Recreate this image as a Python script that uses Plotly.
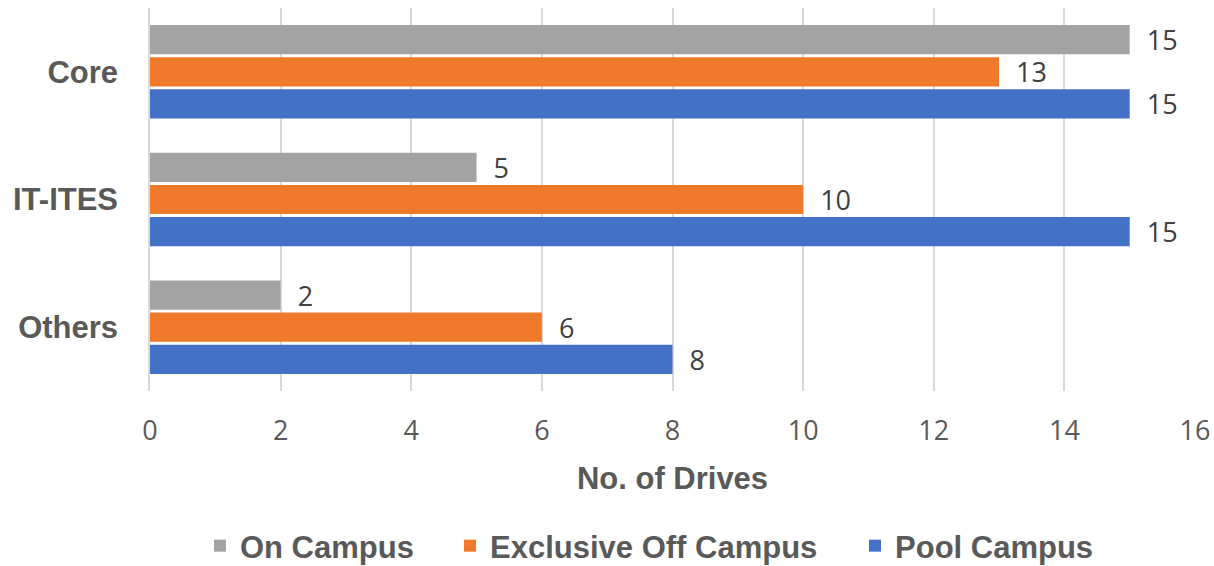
import plotly.graph_objects as go

categories = ["Others", "IT-ITES", "Core"]
on_campus = [2, 5, 15]
exclusive_off = [6, 10, 13]
pool_campus = [8, 15, 15]
x_ticks = [0, 2, 4, 6, 8, 10, 12, 14, 16]

fig = go.Figure()
series = [
    ("Pool Campus", pool_campus, "#4371c6", "legend3"),
    ("Exclusive Off Campus", exclusive_off, "#ef7a2c", "legend2"),
    ("On Campus", on_campus, "#a3a3a3", "legend"),
]
for name, vals, col, lg in series:
    fig.add_trace(go.Bar(
        y=categories, x=vals, name=name, orientation="h",
        marker=dict(color=col, line=dict(width=0)),
        text=["  " + str(v) for v in vals], textposition="outside",
        constraintext="none",
        textfont=dict(family="Open Sans", size=27, color="#404040"),
        cliponaxis=False, legend=lg,
    ))

legend_font = dict(family="Liberation Sans", size=31, color="#595959", weight="bold")
def lg(x):
    return dict(orientation="h", xref="container", yref="container",
                x=x, xanchor="left", y=0.0353, yanchor="middle",
                font=legend_font, bgcolor="rgba(0,0,0,0)")

fig.update_layout(
    width=1214, height=566,
    margin=dict(l=150, r=19, t=8, b=175, autoexpand=False),
    plot_bgcolor="white", paper_bgcolor="white",
    barmode="group", bargap=0.245, bargroupgap=0.09,
    showlegend=True,
    legend=lg(0.1647), legend2=lg(0.3707), legend3=lg(0.7043),
    xaxis=dict(range=[0, 16], tickvals=x_ticks, showgrid=True, gridcolor="#d9d9d9", gridwidth=1.5,
               zeroline=False, showline=False, ticks="", ticklabeloverflow="allow", automargin=False,
               tickfont=dict(family="Open Sans", size=27, color="#595959"),
               ticklabelstandoff=21,
               title=dict(text="No. of Drives", standoff=20,
                          font=dict(family="Liberation Sans", size=31, color="#595959", weight="bold"))),
    yaxis=dict(categoryorder="array", categoryarray=categories, showgrid=False, automargin=False,
               showline=True, linecolor="#d9d9d9", linewidth=1.5, ticks="",
               tickfont=dict(family="Liberation Sans", size=31, color="#595959", weight="bold"),
               ticklabelstandoff=24),
)
fig.write_html("out.html", config={"displayModeBar": False},
               post_script="document.body.style.margin='0';")
